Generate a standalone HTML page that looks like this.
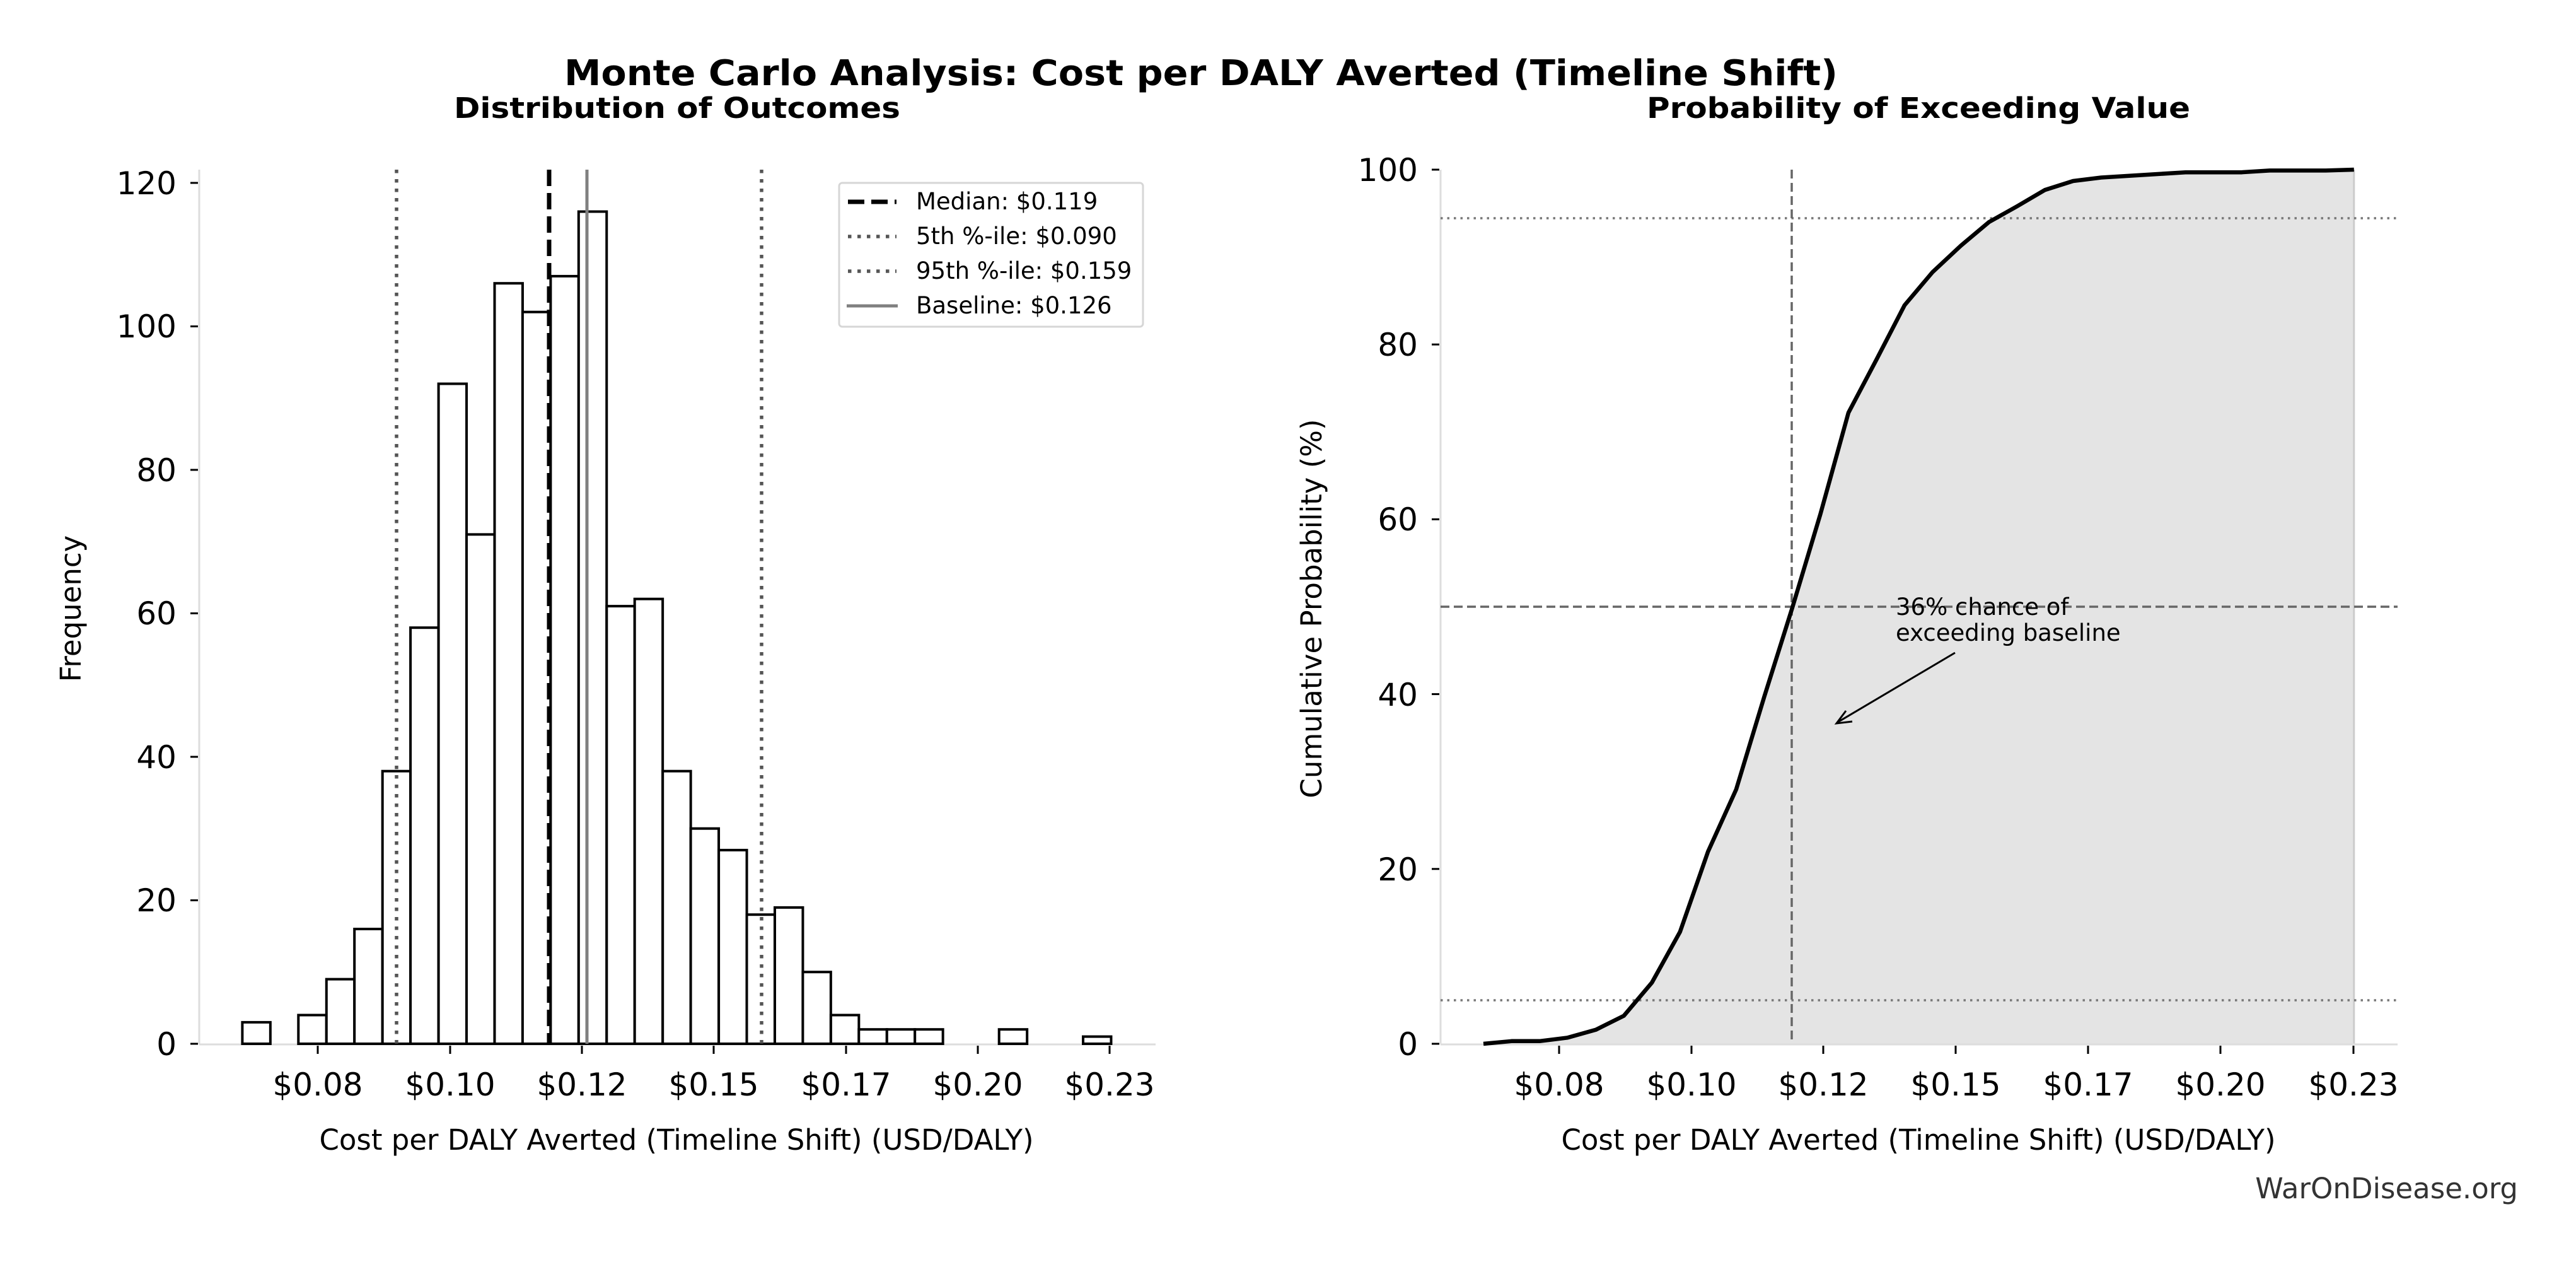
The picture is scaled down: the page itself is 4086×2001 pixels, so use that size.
<!DOCTYPE html>
<html><head><meta charset="utf-8"><style>
html,body{margin:0;padding:0;background:#fff;}
svg{display:block;font-family:"DejaVu Sans","Liberation Sans",sans-serif;}
</style></head><body>
<svg width="4086" height="2001" viewBox="0 0 4086 2001" xmlns="http://www.w3.org/2000/svg">
<rect width="4086" height="2001" fill="#fff"/>
<text x="1905" y="135" font-size="56" font-weight="bold" text-anchor="middle" textLength="2020" lengthAdjust="spacingAndGlyphs">Monte Carlo Analysis: Cost per DALY Averted (Timeline Shift)</text>
<text x="1074" y="187" font-size="45" font-weight="bold" text-anchor="middle" textLength="708" lengthAdjust="spacingAndGlyphs">Distribution of Outcomes</text>
<text x="3043" y="187" font-size="45" font-weight="bold" text-anchor="middle" textLength="862" lengthAdjust="spacingAndGlyphs">Probability of Exceeding Value</text>

<!-- LEFT PANEL -->
<g stroke="#ddd" stroke-width="3" fill="none">
<line x1="316" y1="269" x2="316" y2="1656"/>
<line x1="316" y1="1656" x2="1833" y2="1656"/>
</g>
<g fill="#fff" stroke="#000" stroke-width="4">
<rect x="384.4" y="1620.9" width="44.45" height="34.1"/>
<rect x="473.3" y="1609.5" width="44.45" height="45.5"/>
<rect x="517.8" y="1552.6" width="44.45" height="102.4"/>
<rect x="562.2" y="1473" width="44.45" height="182"/>
<rect x="606.7" y="1222.7" width="44.45" height="432.3"/>
<rect x="651.1" y="995.2" width="44.45" height="659.8"/>
<rect x="695.6" y="608.5" width="44.45" height="1046.5"/>
<rect x="740" y="847.4" width="44.45" height="807.6"/>
<rect x="784.5" y="449.2" width="44.45" height="1205.8"/>
<rect x="828.9" y="494.7" width="44.45" height="1160.3"/>
<rect x="873.4" y="437.9" width="44.45" height="1217.1"/>
<rect x="917.8" y="335.5" width="44.45" height="1319.5"/>
<rect x="962.3" y="961.1" width="44.45" height="693.9"/>
<rect x="1006.7" y="949.7" width="44.45" height="705.3"/>
<rect x="1051.2" y="1222.7" width="44.45" height="432.3"/>
<rect x="1095.6" y="1313.7" width="44.45" height="341.3"/>
<rect x="1140.1" y="1347.9" width="44.45" height="307.1"/>
<rect x="1184.5" y="1450.2" width="44.45" height="204.8"/>
<rect x="1229" y="1438.9" width="44.45" height="216.1"/>
<rect x="1273.4" y="1541.2" width="44.45" height="113.8"/>
<rect x="1317.9" y="1609.5" width="44.45" height="45.5"/>
<rect x="1362.3" y="1632.2" width="44.45" height="22.8"/>
<rect x="1406.8" y="1632.2" width="44.45" height="22.8"/>
<rect x="1451.2" y="1632.2" width="44.45" height="22.8"/>
<rect x="1584.7" y="1632.2" width="44.45" height="22.8"/>
<rect x="1718" y="1643.6" width="44.45" height="11.4"/>
</g>
<line x1="629" y1="269" x2="629" y2="1655" stroke="#555" stroke-width="5.5" stroke-dasharray="5.5,9.5"/>
<line x1="1208" y1="269" x2="1208" y2="1655" stroke="#555" stroke-width="5.5" stroke-dasharray="5.5,9.5"/>
<line x1="871" y1="269" x2="871" y2="1655" stroke="#000" stroke-width="7" stroke-dasharray="26,11"/>
<line x1="931" y1="269" x2="931" y2="1655" stroke="#808080" stroke-width="5"/>
<g stroke="#000" stroke-width="3">
<line x1="302" y1="1655" x2="314" y2="1655"/><line x1="302" y1="1427.5" x2="314" y2="1427.5"/>
<line x1="302" y1="1200" x2="314" y2="1200"/><line x1="302" y1="972.5" x2="314" y2="972.5"/>
<line x1="302" y1="745" x2="314" y2="745"/><line x1="302" y1="517.5" x2="314" y2="517.5"/>
<line x1="302" y1="290" x2="314" y2="290"/>
<line x1="504" y1="1658" x2="504" y2="1671"/><line x1="714" y1="1658" x2="714" y2="1671"/>
<line x1="923" y1="1658" x2="923" y2="1671"/><line x1="1132" y1="1658" x2="1132" y2="1671"/>
<line x1="1342" y1="1658" x2="1342" y2="1671"/><line x1="1551" y1="1658" x2="1551" y2="1671"/>
<line x1="1760" y1="1658" x2="1760" y2="1671"/>
</g>
<g font-size="50" text-anchor="end">
<text x="280" y="1673">0</text><text x="280" y="1445">20</text><text x="280" y="1218">40</text>
<text x="280" y="990">60</text><text x="280" y="763">80</text><text x="280" y="535">100</text>
<text x="280" y="308">120</text>
</g>
<g font-size="50" text-anchor="middle">
<text x="504" y="1737">$0.08</text><text x="714" y="1737">$0.10</text><text x="923" y="1737">$0.12</text>
<text x="1132" y="1737">$0.15</text><text x="1342" y="1737">$0.17</text><text x="1551" y="1737">$0.20</text>
<text x="1760" y="1737">$0.23</text>
</g>
<text x="1073" y="1823" font-size="45" text-anchor="middle">Cost per DALY Averted (Timeline Shift) (USD/DALY)</text>
<text transform="translate(128,965) rotate(-90)" font-size="45" text-anchor="middle">Frequency</text>
<rect x="1331" y="290" width="482" height="228" rx="5" fill="#fff" stroke="#d6d6d6" stroke-width="3"/>
<line x1="1345" y1="320" x2="1422" y2="320" stroke="#000" stroke-width="7" stroke-dasharray="26,11"/>
<line x1="1345" y1="375" x2="1422" y2="375" stroke="#555" stroke-width="5.5" stroke-dasharray="5.5,9.5"/>
<line x1="1345" y1="430" x2="1422" y2="430" stroke="#555" stroke-width="5.5" stroke-dasharray="5.5,9.5"/>
<line x1="1343" y1="485" x2="1424" y2="485" stroke="#808080" stroke-width="5"/>
<g font-size="37">
<text x="1453" y="332">Median: $0.119</text>
<text x="1453" y="387">5th %-ile: $0.090</text>
<text x="1453" y="442">95th %-ile: $0.159</text>
<text x="1453" y="497">Baseline: $0.126</text>
</g>

<!-- RIGHT PANEL -->
<polygon fill="#e4e4e4" points="2353,1655 2397.5,1650.8 2442.1,1650.8 2486.6,1645.3 2531.2,1632.8 2575.7,1610.6 2620.2,1558 2664.8,1477.6 2709.3,1350.1 2753.9,1251.7 2798.4,1104.8 2843,963.4 2887.5,815.1 2932,654.3 2976.6,569.8 3021.1,483.8 3065.6,431.2 3110.2,389.6 3154.7,352.2 3199.3,327.2 3243.8,301.1 3288.3,287 3332.9,281.5 3377.4,278.7 3422,276 3466.5,273.2 3555.6,273.2 3600.1,270.4 3689.2,270.4 3733.8,269 3733.8,1655"/>
<line x1="3733.8" y1="269" x2="3733.8" y2="1655" stroke="#ccc" stroke-width="3"/>
<g stroke="#ddd" stroke-width="3" fill="none">
<line x1="2285" y1="269" x2="2285" y2="1656"/>
<line x1="2285" y1="1656" x2="3803" y2="1656"/>
</g>
<line x1="2285" y1="346" x2="3803" y2="346" stroke="#777" stroke-width="3.5" stroke-dasharray="3.5,7"/>
<line x1="2285" y1="1586" x2="3803" y2="1586" stroke="#777" stroke-width="3.5" stroke-dasharray="3.5,7"/>
<line x1="2285" y1="962" x2="3803" y2="962" stroke="#666" stroke-width="3.5" stroke-dasharray="14,7"/>
<line x1="2842" y1="269" x2="2842" y2="1655" stroke="#666" stroke-width="3.5" stroke-dasharray="14,7"/>
<polyline fill="none" stroke="#000" stroke-width="6.5" stroke-linejoin="round" points="2353,1655 2397.5,1650.8 2442.1,1650.8 2486.6,1645.3 2531.2,1632.8 2575.7,1610.6 2620.2,1558 2664.8,1477.6 2709.3,1350.1 2753.9,1251.7 2798.4,1104.8 2843,963.4 2887.5,815.1 2932,654.3 2976.6,569.8 3021.1,483.8 3065.6,431.2 3110.2,389.6 3154.7,352.2 3199.3,327.2 3243.8,301.1 3288.3,287 3332.9,281.5 3377.4,278.7 3422,276 3466.5,273.2 3555.6,273.2 3600.1,270.4 3689.2,270.4 3733.8,269"/>
<g stroke="#000" stroke-width="3">
<line x1="2271" y1="1655" x2="2283" y2="1655"/><line x1="2271" y1="1377.8" x2="2283" y2="1377.8"/>
<line x1="2271" y1="1100.6" x2="2283" y2="1100.6"/><line x1="2271" y1="823.4" x2="2283" y2="823.4"/>
<line x1="2271" y1="546.2" x2="2283" y2="546.2"/><line x1="2271" y1="269" x2="2283" y2="269"/>
<line x1="2473" y1="1658" x2="2473" y2="1671"/><line x1="2683" y1="1658" x2="2683" y2="1671"/>
<line x1="2892" y1="1658" x2="2892" y2="1671"/><line x1="3102" y1="1658" x2="3102" y2="1671"/>
<line x1="3312" y1="1658" x2="3312" y2="1671"/><line x1="3522" y1="1658" x2="3522" y2="1671"/>
<line x1="3733" y1="1658" x2="3733" y2="1671"/>
</g>
<g font-size="50" text-anchor="end">
<text x="2249" y="1673">0</text><text x="2249" y="1396">20</text><text x="2249" y="1119">40</text>
<text x="2249" y="841">60</text><text x="2249" y="564">80</text><text x="2249" y="287">100</text>
</g>
<g font-size="50" text-anchor="middle">
<text x="2473" y="1737">$0.08</text><text x="2683" y="1737">$0.10</text><text x="2892" y="1737">$0.12</text>
<text x="3102" y="1737">$0.15</text><text x="3312" y="1737">$0.17</text><text x="3522" y="1737">$0.20</text>
<text x="3733" y="1737">$0.23</text>
</g>
<text x="3043" y="1823" font-size="45" text-anchor="middle">Cost per DALY Averted (Timeline Shift) (USD/DALY)</text>
<text transform="translate(2096,965) rotate(-90)" font-size="45" text-anchor="middle">Cumulative Probability (%)</text>
<g font-size="37">
<text x="3007" y="975">36% chance of</text>
<text x="3007" y="1016">exceeding baseline</text>
</g>
<line x1="3101" y1="1035" x2="2915" y2="1145" stroke="#000" stroke-width="3"/>
<polyline points="2938,1144 2913,1147 2928,1127" fill="none" stroke="#000" stroke-width="3"/>
<text x="3994" y="1900" font-size="45" fill="#333" text-anchor="end">WarOnDisease.org</text>
</svg>
</body></html>
